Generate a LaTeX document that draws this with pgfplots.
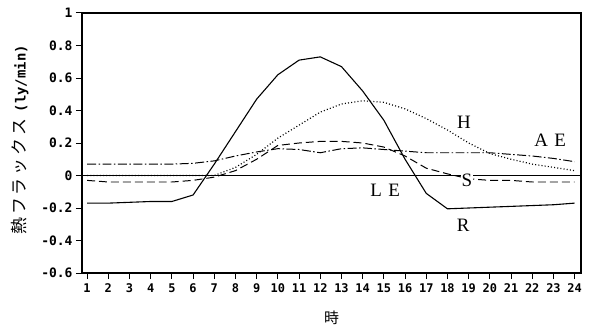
\documentclass[border=0pt]{standalone}
\usepackage{pgfplots}
\pgfplotsset{compat=1.18}
\usepackage{fontspec}
\setmainfont{Liberation Serif}
\setmonofont{DejaVu Sans Mono}
\newfontfamily\jp{Noto Sans CJK JP}

\pgfplotstableread{
h R H AE S
1 -0.17 0 0.07 -0.03
2 -0.17 0 0.07 -0.04
3 -0.165 0 0.07 -0.04
4 -0.16 0 0.07 -0.04
5 -0.16 0 0.07 -0.04
6 -0.12 0 0.075 -0.03
7 0.07 0 0.09 -0.01
8 0.27 0.05 0.12 0.03
9 0.47 0.13 0.145 0.10
10 0.62 0.23 0.165 0.185
11 0.71 0.31 0.16 0.20
12 0.73 0.39 0.14 0.21
13 0.67 0.44 0.165 0.21
14 0.52 0.46 0.17 0.20
15 0.34 0.45 0.16 0.175
16 0.10 0.41 0.15 0.12
17 -0.11 0.35 0.14 0.045
18 -0.205 0.28 0.14 0.01
19 -0.20 0.20 0.14 -0.02
20 -0.195 0.135 0.14 -0.03
21 -0.19 0.10 0.13 -0.03
22 -0.185 0.07 0.12 -0.04
23 -0.18 0.05 0.105 -0.04
24 -0.17 0.03 0.085 -0.04
}\datatable

\begin{document}
\begin{tikzpicture}
\begin{axis}[
  scale only axis, width=499bp, height=260bp,
  xmin=0.76, xmax=24.3, ymin=-0.6, ymax=1,
  axis line style={line width=1.6pt},
  xtick pos=bottom, ytick pos=left,
  tick align=outside, major tick length=6bp,
  tick style={line width=1pt, black},
  xtick={1,2,3,4,5,6,7,8,9,10,11,12,13,14,15,16,17,18,19,20,21,22,23,24},
  xticklabels={1,2,3,4,5,6,7,8,9,10,11,12,13,14,15,16,17,18,19,20,21,22,23,24},
  ytick={-0.6,-0.4,-0.2,0,0.2,0.4,0.6,0.8,1},
  yticklabels={-0.6,-0.4,-0.2,0,0.2,0.4,0.6,0.8,1},
  yticklabel style={font=\ttfamily\bfseries\fontsize{13}{13}\selectfont},
  xticklabel style={font=\ttfamily\bfseries\fontsize{12}{12}\selectfont, yshift=-1bp},
]
\addplot[black, line width=0.8pt] coordinates {(0.76,0) (24.3,0)};
\addplot[black, line width=1.1pt] table[x=h, y=R] {\datatable};
\addplot[black, line width=1.2pt, dash pattern=on 1pt off 2.2pt] table[x=h, y=H] {\datatable};
\addplot[black, line width=1pt, dash pattern=on 9pt off 2.5pt on 1.5pt off 2.5pt] table[x=h, y=AE] {\datatable};
\addplot[black, line width=1pt, dash pattern=on 8pt off 4pt] table[x=h, y=S] {\datatable};
\node[font=\fontsize{19}{19}\selectfont] at (axis cs:18.78,0.327) {H};
\node[font=\fontsize{19}{19}\selectfont] at (axis cs:22.84,0.216) {A\,\,E};
\node[font=\fontsize{19}{19}\selectfont, fill=white, inner sep=1pt] at (axis cs:18.92,-0.031) {S};
\node[font=\fontsize{19}{19}\selectfont] at (axis cs:15.06,-0.093) {L\,\,E};
\node[font=\fontsize{19}{19}\selectfont] at (axis cs:18.74,-0.309) {R};
\end{axis}
\node[rotate=90] at ([xshift=-62bp, yshift=3bp]current axis.west) {{\jp\fontsize{17}{17}\selectfont 熱\hspace{3pt}フ\hspace{3pt}ラ\hspace{3pt}ッ\hspace{3pt}ク\hspace{3pt}ス}\hspace{6pt}{\ttfamily\bfseries\fontsize{14}{14}\selectfont (ly/min)}};
\node[font=\jp\fontsize{15}{15}\selectfont] at ([yshift=-45bp]current axis.south) {時};
\pgfresetboundingbox
\path ([shift={(-82bp,-55bp)}]current axis.south west) rectangle ([shift={(14bp,13bp)}]current axis.north east);
\end{tikzpicture}
\end{document}
